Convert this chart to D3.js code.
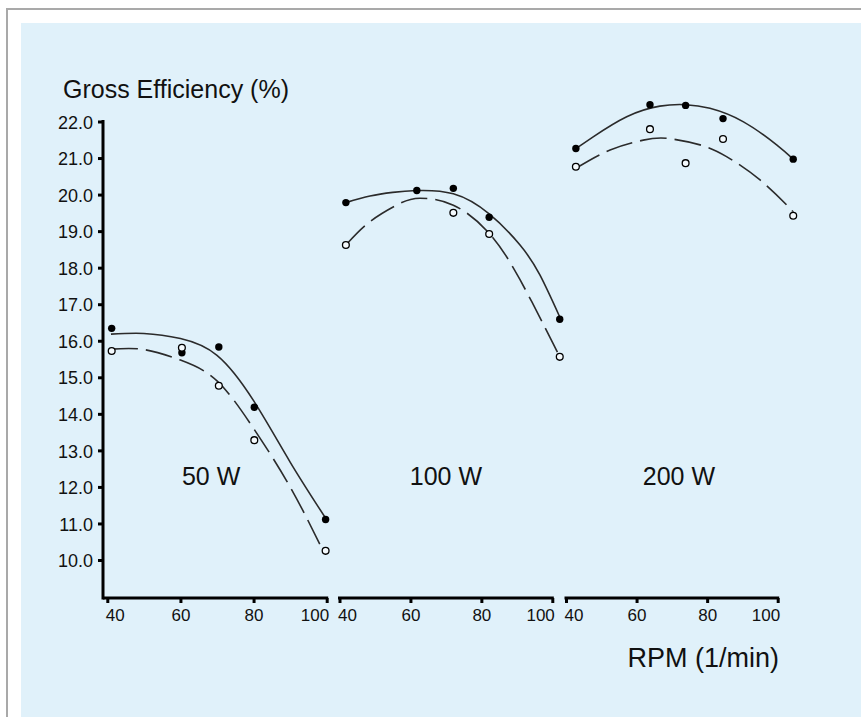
<!DOCTYPE html>
<html>
<head>
<meta charset="utf-8">
<script src="https://cdn.jsdelivr.net/npm/d3@7"></script>
<style>
body { margin: 0; background: #fff; }
svg text { font-family: "Liberation Sans", Arial, Helvetica, sans-serif; fill: #111; }
</style>
</head>
<body>
<svg id="chart" width="861" height="717"></svg>
<script>
// panel names and axis ticks
let panelNames = ["50 W", "100 W", "200 W"];
let xTicks = [40, 60, 80, 100];
let yTicks = [10, 11, 12, 13, 14, 15, 16, 17, 18, 19, 20, 21, 22];
let labelRpm = [68.4, 70, 72];

// measured points (rpm, gross efficiency %) - filled and open markers
let rpm50 = [41.2, 60.4, 70.5, 80.2, 99.7];
let filled50 = [16.34, 15.67, 15.83, 14.18, 11.11];
let open50 = [15.72, 15.81, 14.77, 13.28, 10.25];

let rpm100 = [41.8, 61.8, 72.1, 82.2, 102.1];
let filled100 = [19.78, 20.11, 20.17, 19.38, 16.59];
let open100 = [18.62, null, 19.50, 18.92, 15.56];

let rpm200 = [42.8, 63.8, 73.9, 84.5, 104.4];
let filled200 = [21.26, 22.46, 22.44, 22.08, 20.97];
let open200 = [20.76, 21.79, 20.86, 21.52, 19.42];

// fitted curves
let solid50Rpm = [41, 50, 60, 70, 80, 90, 100];
let solid50 = [16.18, 16.2, 16.06, 15.6, 14.36, 12.68, 11.1];
let dash50Rpm = [41, 50, 60, 70, 80, 90, 99];
let dash50 = [15.77, 15.76, 15.47, 14.9, 13.6, 12.0, 10.25];

let solid100Rpm = [41.8, 48.6, 55, 61.8, 72.1, 82.2, 90.9, 96.5, 102.1];
let solid100 = [19.78, 19.96, 20.06, 20.11, 20.02, 19.47, 18.62, 17.8, 16.65];
let dash100Rpm = [41.8, 48.6, 57.1, 62.7, 72.1, 82.2, 90.9, 100.2, 102.1];
let dash100 = [18.62, 19.26, 19.76, 19.9, 19.71, 18.94, 17.67, 15.93, 15.56];

let solid200Rpm = [42.8, 47.7, 57.2, 66.6, 73.9, 80.8, 90.3, 99.7, 104.4];
let solid200 = [21.26, 21.58, 22.13, 22.42, 22.46, 22.36, 21.99, 21.36, 20.97];
let dash200Rpm = [42.8, 52.5, 61.9, 68.5, 78, 85.5, 95, 103, 104.4];
let dash200 = [20.72, 21.22, 21.49, 21.54, 21.36, 21.04, 20.4, 19.67, 19.52];

let panels = [
	{rpm: rpm50, filled: filled50, open: open50, sx: solid50Rpm, sy: solid50, dx: dash50Rpm, dy: dash50},
	{rpm: rpm100, filled: filled100, open: open100, sx: solid100Rpm, sy: solid100, dx: dash100Rpm, dy: dash100},
	{rpm: rpm200, filled: filled200, open: open200, sx: solid200Rpm, sy: solid200, dx: dash200Rpm, dy: dash200}
];

// layout
let bg = "#e0f1fa";
let axisX = 103;
let baseY = 598;
let panelRanges = [[107.3, 326.7], [339.5, 552.3], [566, 777.7]];

let svg = d3.select("#chart");

// frame
svg.append("rect").attr("x", 21).attr("y", 23).attr("width", 840).attr("height", 694).attr("fill", bg);
svg.append("line").attr("x1", 7).attr("y1", 9).attr("x2", 861).attr("y2", 9)
	.attr("stroke", "#a9a9a9").attr("stroke-width", 2);
svg.append("line").attr("x1", 7).attr("y1", 8).attr("x2", 7).attr("y2", 717)
	.attr("stroke", "#a9a9a9").attr("stroke-width", 2);

let scaleY = d3.scaleLinear().domain([10, 22]).range([560, 121.5]);

// y axis
let gy = svg.append("g")
	.attr("transform", `translate(${axisX}, 0)`)
	.call(d3.axisLeft(scaleY).tickValues(yTicks).tickSize(5).tickPadding(5).tickFormat(d3.format(".1f")));
gy.select(".domain").remove();
gy.selectAll(".tick line").attr("stroke", "#000").attr("stroke-width", 3);
gy.selectAll("text").style("font-size", "18px").attr("dy", "0.37em");
svg.append("line")
	.attr("x1", axisX).attr("x2", axisX)
	.attr("y1", scaleY(22) - 1.5).attr("y2", baseY + 1.5)
	.attr("stroke", "#000").attr("stroke-width", 3);

// titles
svg.append("text").attr("x", 63).attr("y", 98).style("font-size", "25px").text("Gross Efficiency (%)");
svg.append("text").attr("x", 779).attr("y", 667).attr("text-anchor", "end")
	.style("font-size", "27px").text("RPM (1/min)");

panels.forEach(function(p, i) {
	let scaleX = d3.scaleLinear().domain([40, 100]).range(panelRanges[i]);

	// x axis of this panel
	let gx = svg.append("g")
		.attr("transform", `translate(0, ${baseY})`)
		.call(d3.axisBottom(scaleX).tickValues(xTicks).tickSize(5).tickPadding(6));
	gx.select(".domain").remove();
	gx.selectAll(".tick line").attr("stroke", "#000").attr("stroke-width", 3);
	gx.selectAll("text")
		.style("font-size", "17px")
		.attr("text-anchor", function(d, j) { return j == 0 ? "start" : (j == xTicks.length - 1 ? "end" : "middle"); })
		.attr("dx", function(d, j) { return j == 0 ? "-2" : (j == xTicks.length - 1 ? "2" : "0"); });
	svg.append("line")
		.attr("x1", i == 0 ? axisX : panelRanges[i][0] - 1.5)
		.attr("x2", panelRanges[i][1] + 1.5)
		.attr("y1", baseY).attr("y2", baseY)
		.attr("stroke", "#000").attr("stroke-width", 3);

	// curves
	let line = d3.line()
		.x(d => scaleX(d[0]))
		.y(d => scaleY(d[1]))
		.curve(d3.curveNatural);
	svg.append("path")
		.attr("d", line(d3.zip(p.sx, p.sy)))
		.attr("fill", "none").attr("stroke", "#2b2b2b").attr("stroke-width", 1.6);
	svg.append("path")
		.attr("d", line(d3.zip(p.dx, p.dy)))
		.attr("fill", "none").attr("stroke", "#2b2b2b").attr("stroke-width", 1.6)
		.attr("stroke-dasharray", "27,8");

	// points
	svg.selectAll(null)
		.data(d3.zip(p.rpm, p.filled))
		.enter()
		.append("circle")
		.attr("cx", d => scaleX(d[0]))
		.attr("cy", d => scaleY(d[1]))
		.attr("r", 3.7)
		.attr("fill", "#000");
	svg.selectAll(null)
		.data(d3.zip(p.rpm, p.open).filter(d => d[1] != null))
		.enter()
		.append("circle")
		.attr("cx", d => scaleX(d[0]))
		.attr("cy", d => scaleY(d[1]))
		.attr("r", 3.4)
		.attr("fill", "#f4fafd")
		.attr("stroke", "#000")
		.attr("stroke-width", 1.3);

	// power label
	svg.append("text")
		.attr("x", scaleX(labelRpm[i]))
		.attr("y", 485)
		.attr("text-anchor", "middle")
		.style("font-size", "25px")
		.text(panelNames[i]);
});
</script>
</body>
</html>
